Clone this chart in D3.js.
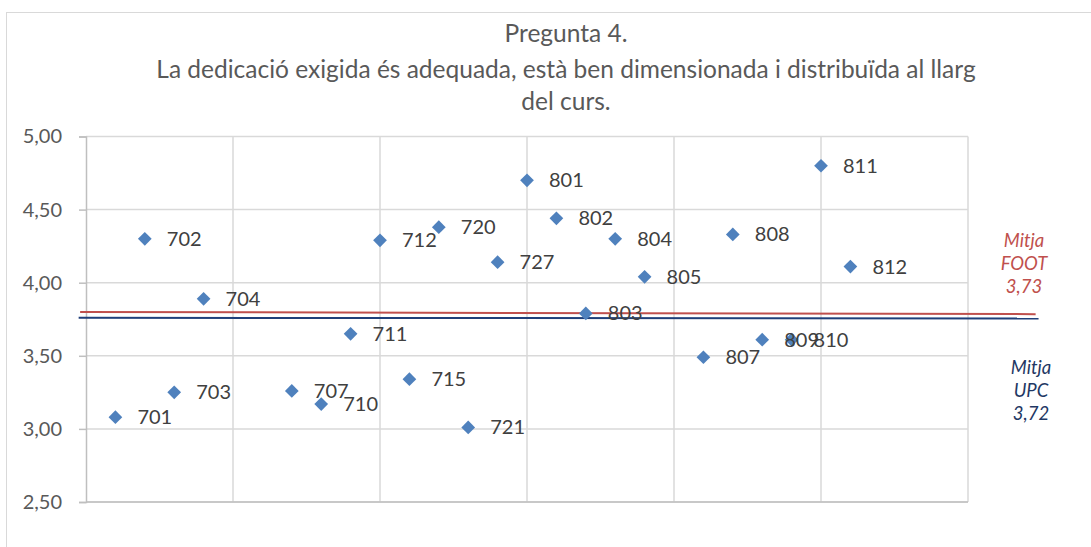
<!DOCTYPE html>
<html>
<head>
<meta charset="utf-8">
<script src="https://cdnjs.cloudflare.com/ajax/libs/d3/7.8.5/d3.min.js"></script>
<style>
body{margin:0;background:#fff;}
text{font-family:Lato,"Open Sans",sans-serif;}
</style>
</head>
<body>
<div id="root"></div>
<script>
// data
var groups=['701','702','703','704','707','710','711','712','715','720','721','727','801','802','803','804','805','807','808','809','810','811','812'];
var xPos=[1,2,3,4,7,8,9,10,11,12,13,14,15,16,17,18,19,21,22,23,24,25,26];
var scores=[3.08,4.30,3.25,3.89,3.26,3.17,3.65,4.29,3.34,4.38,3.01,4.14,4.70,4.44,3.79,4.30,4.04,3.49,4.33,3.61,3.61,4.80,4.11];
var yTicks=[2.5,3,3.5,4,4.5,5];
var xGrid=[0,5,10,15,20,25,30];
var titleLines=['Pregunta 4.','La dedicació exigida és adequada, està ben dimensionada i distribuïda al llarg','del curs.'];
// hand-drawn mean lines (ends in chart units)
var footLine=[[-0.2,3.80],[32.3,3.785]];
var upcLine=[[-0.25,3.76],[32.4,3.755]];
var footLabel=['Mitja','FOOT','3,73'];
var upcLabel=['Mitja','UPC','3,72'];

var W=1091,H=547;
var b={t:136.5,l:86,r:123,b:45};
var w=W-b.l-b.r;
var h=502-b.t;

var svg=d3.select('#root').append('svg')
	.attr('width',W)
	.attr('height',H);

svg.append('rect').attr('x',6.5).attr('y',12.5).attr('width',W).attr('height',H)
	.attr('fill','#fff').attr('stroke','#d9d9d9');

var g=svg.append('g').attr('transform','translate('+b.l+','+b.t+')');

var scaleX=d3.scaleLinear().domain([0,30]).range([0,w]);
var scaleY=d3.scaleLinear().domain([2.5,5]).range([h,0]);

// grid
g.selectAll('.hgrid').data(yTicks).enter().append('line').attr('class','hgrid')
	.attr('x1',0).attr('x2',w)
	.attr('y1',function(d){return scaleY(d)}).attr('y2',function(d){return scaleY(d)})
	.attr('stroke','#d9d9d9').attr('stroke-width',1.5);
g.selectAll('.vgrid').data(xGrid.slice(1)).enter().append('line').attr('class','vgrid')
	.attr('y1',0).attr('y2',h)
	.attr('x1',function(d){return scaleX(d)}).attr('x2',function(d){return scaleX(d)})
	.attr('stroke','#d9d9d9').attr('stroke-width',1.5);

var yAxis=d3.axisLeft(scaleY).tickValues(yTicks).tickSize(7).tickPadding(17)
	.tickFormat(function(d){return d3.format('.2f')(d).replace('.',',')});
var ya=g.append('g').call(yAxis);
ya.select('.domain').attr('stroke','#bfbfbf').attr('stroke-width',1.5);
ya.selectAll('.tick line').attr('stroke','#bfbfbf').attr('stroke-width',1.5);
ya.selectAll('text').attr('fill','#595959').style('font-size','20px').style('font-family','Lato,sans-serif');

g.append('line').attr('x1',0).attr('x2',w).attr('y1',h).attr('y2',h)
	.attr('stroke','#bfbfbf').attr('stroke-width',1.5);

// mean lines
var line=d3.line().x(function(d){return scaleX(d[0])}).y(function(d){return scaleY(d[1])});
g.append('path').attr('d',line(footLine)).attr('fill','none').attr('stroke','#c0504d').attr('stroke-width',2);
g.append('path').attr('d',line(upcLine)).attr('fill','none').attr('stroke','#1f3f7a').attr('stroke-width',2);

// points
var pts=groups.map(function(d,i){return {name:d,x:xPos[i],y:scores[i]}});
var diamond=d3.symbol().type(d3.symbolDiamond2).size(120);
g.selectAll('.pt').data(pts).enter().append('path').attr('class','pt')
	.attr('transform',function(d){return 'translate('+scaleX(d.x)+','+scaleY(d.y)+')'})
	.attr('d',diamond).attr('fill','#4f81bd');
g.selectAll('.lbl').data(pts).enter().append('text').attr('class','lbl')
	.attr('x',function(d){return scaleX(d.x)+22}).attr('y',function(d){return scaleY(d.y)+7})
	.attr('fill','#404040').style('font-size','20px').text(function(d){return d.name});

// title
svg.selectAll('.title').data(titleLines).enter().append('text').attr('class','title')
	.attr('x',566).attr('y',function(d,i){return [42,78,110][i]})
	.attr('text-anchor','middle').attr('fill','#595959').style('font-size','24.5px')
	.text(function(d){return d});

// side labels
svg.selectAll('.foot').data(footLabel).enter().append('text').attr('class','foot')
	.attr('x',1024).attr('y',function(d,i){return 247+i*23})
	.attr('text-anchor','middle').attr('fill','#c0504d').style('font-size','18.5px').style('font-style','italic')
	.text(function(d){return d});
svg.selectAll('.upc').data(upcLabel).enter().append('text').attr('class','upc')
	.attr('x',1031).attr('y',function(d,i){return 374+i*23})
	.attr('text-anchor','middle').attr('fill','#1f3864').style('font-size','18.5px').style('font-style','italic')
	.text(function(d){return d});
</script>
</body>
</html>
